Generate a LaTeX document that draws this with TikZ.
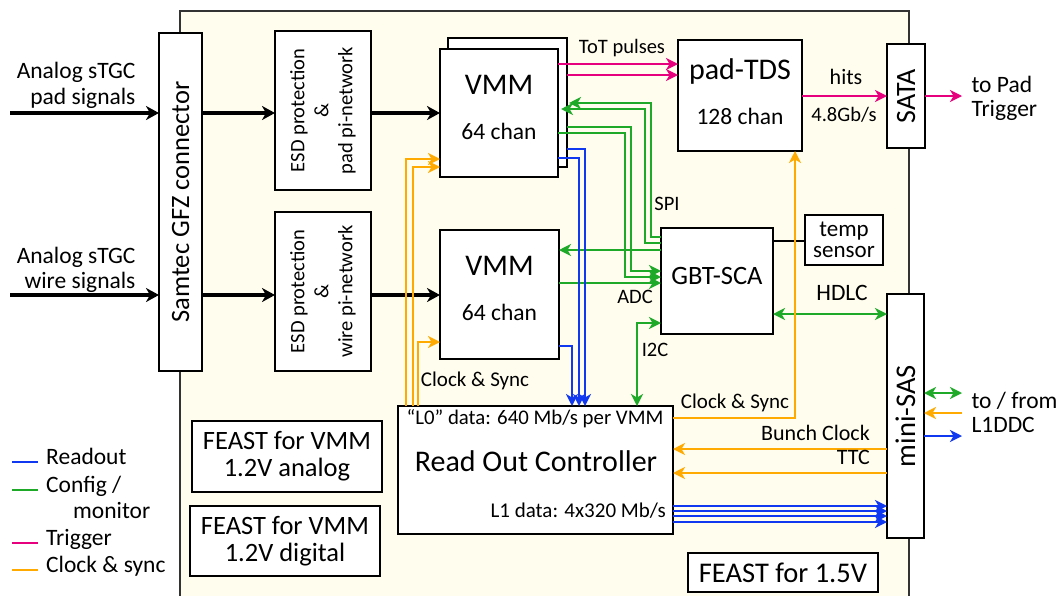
\documentclass[tikz,border=0pt]{standalone}
\usepackage{fontspec}
\setmainfont{Carlito}
\usetikzlibrary{arrows.meta}
\definecolor{cblue}{RGB}{16,56,240}
\definecolor{cgreen}{RGB}{30,170,40}
\definecolor{cmag}{RGB}{230,0,126}
\definecolor{corange}{RGB}{255,170,0}
\definecolor{beige}{RGB}{255,253,238}
\newcommand\fsz[2]{\fontsize{#1}{#2}\selectfont}
\begin{document}
\begin{tikzpicture}[x=1pt,y=-1pt,
  box/.style={draw=black,line width=2.5pt,fill=white,inner sep=0pt,outer sep=0pt},
  blk/.style={line width=4pt,-{Stealth[length=13pt,width=14pt,inset=4pt]}},
  carr/.style={line width=2pt,-{Stealth[length=12pt,width=12pt,inset=3.5pt]}},
  cdbl/.style={line width=2pt,{Stealth[length=12pt,width=12pt,inset=3.5pt]}-{Stealth[length=12pt,width=12pt,inset=3.5pt]}},
  cline/.style={line width=2pt},
  lbl/.style={inner sep=0pt,text height=0.7em,text depth=0.2em}
]
\fill[white] (0,0) rectangle (1060,595);
\useasboundingbox (0,0) rectangle (1060,595);
% board
\draw[fill=beige,draw=black!80,line width=1.5pt] (180,11) rectangle (909,610);

% boxes
\node[box,minimum width=43pt,minimum height=338pt] (samtec) at (180.5,202) {};
\node[rotate=90,font=\fsz{26.5}{30}] at (samtec) {Samtec GFZ connector};
\node[box,minimum width=96pt,minimum height=159pt] (esdpad) at (323,110.5) {};
\node[rotate=90,align=center,font=\fsz{20.5}{24}] at (esdpad) {ESD protection\\\&\\pad pi-network};
\node[box,minimum width=96pt,minimum height=159pt] (esdwire) at (323,291.5) {};
\node[rotate=90,align=center,font=\fsz{20.5}{24}] at (esdwire) {ESD protection\\\&\\wire pi-network};

\node[box,minimum width=119pt,minimum height=129pt] (vmm1back) at (507.5,102.5) {};
\node[box,minimum width=118pt,minimum height=128pt] (vmm1) at (499,113) {};
\node[lbl,font=\fsz{30}{30}] (vmm1t) at (499,92) {VMM};
\node[lbl,font=\fsz{23.5}{24}] (vmm1c) at (499,137) {64 chan};
\node[box,minimum width=119pt,minimum height=129pt] (vmm2) at (499.5,294.5) {};
\node[lbl,font=\fsz{30}{30}] (vmm2t) at (499.5,273) {VMM};
\node[lbl,font=\fsz{23.5}{24}] (vmm2c) at (499.5,318) {64 chan};

\node[box,minimum width=124pt,minimum height=111pt] (tds) at (740,95.5) {};
\node[lbl,font=\fsz{30}{30}] (tdst) at (740,77) {pad-TDS};
\node[lbl,font=\fsz{23.5}{24}] (tdsc) at (740,122) {128 chan};

\node[box,minimum width=38pt,minimum height=104pt] (sata) at (906,96) {};
\node[rotate=90,font=\fsz{28}{30}] at (sata) {SATA};

\node[box,minimum width=112pt,minimum height=106pt] (gbt) at (717,281) {};
\node[lbl,font=\fsz{26.5}{28}] (gbtt) at (717,282) {GBT-SCA};
\node[box,minimum width=78pt,minimum height=50pt,align=center,font=\fsz{23}{21}] (temp) at (844,240) {temp\\sensor};

\node[box,minimum width=37pt,minimum height=244pt] (minisas) at (905.5,416) {};
\node[rotate=90,font=\fsz{28.5}{30}] at (minisas) {mini-SAS};

\node[box,minimum width=275pt,minimum height=128pt] (roc) at (535.5,470) {};
\node[lbl,font=\fsz{20.8}{22}] (rocl0) at (535,422) {``L0'' data: 640 Mb/s per VMM};
\node[lbl,font=\fsz{30}{30}] (roct) at (536,469) {Read Out Controller};
\node[lbl,font=\fsz{21}{22},anchor=east] (rocl1) at (666,515) {L1 data: 4x320 Mb/s};

\node[box,minimum width=190pt,minimum height=71pt,align=center,font=\fsz{26.5}{27}] (feast1) at (287,456.5) {FEAST for VMM\\1.2V analog};
\node[box,minimum width=190pt,minimum height=70pt,align=center,font=\fsz{26.5}{27}] (feast2) at (285,541) {FEAST for VMM\\1.2V digital};
\node[box,minimum width=190pt,minimum height=39pt,font=\fsz{28.5}{30}] (feast15) at (783,572.5) {FEAST for 1.5V};

% inputs
\node[align=right,anchor=east,font=\fsz{23.5}{26}] (inpadl) at (139,85) {Analog sTGC\\pad signals};
\node[align=right,anchor=east,font=\fsz{23.5}{25}] (inwirel) at (139,270) {Analog sTGC\\wire signals};
\coordinate (inpad) at (10,113);
\coordinate (inwire) at (10,295);
\draw[blk] (inpad) -- (samtec.west |- inpad);
\draw[blk] (inwire) -- (samtec.west |- inwire);
\draw[blk] (samtec.east |- inpad) -- (esdpad.west |- inpad);
\draw[blk] (samtec.east |- inwire) -- (esdwire.west |- inwire);
\draw[blk] (esdpad.east |- inpad) -- (vmm1.west |- inpad);
\draw[blk] (esdwire.east |- inwire) -- (vmm2.west |- inwire);

% trigger
\draw[carr,cmag] (vmm1.east |- 0,64) -- (tds.west |- 0,64);
\draw[carr,cmag] (vmm1back.east |- 0,75) -- (tds.west |- 0,75);
\node[lbl,font=\fsz{20.5}{22}] (totl) at (622,51) {ToT pulses};
\draw[carr,cmag] (tds.east |- 0,96) -- (sata.west |- 0,96);
\node[lbl,font=\fsz{22}{22}] (hitsl) at (846,82) {hits};
\node[lbl,font=\fsz{20.5}{22}] (ratel) at (844,119) {4.8Gb/s};
\coordinate (padtrig) at (962,96);
\draw[carr,cmag] (sata.east |- padtrig) -- (padtrig);
\node[align=left,anchor=west,font=\fsz{23.5}{24}] (padtrigl) at (968,98) {to Pad\\Trigger};

% config / monitor
\draw[carr,cgreen] (gbt.west |- 0,237) -- (651,237) -- (651,103) -- (569,103);
\draw[carr,cgreen] (gbt.west |- 0,243) -- (645,243) -- (645,109) -- (561,109);
\draw[carr,cgreen] (vmm1back.east |- 0,127) -- (631,127) -- (631,271) -- (gbt.west |- 0,271);
\draw[carr,cgreen] (vmm1.east |- 0,133) -- (625,133) -- (625,277) -- (gbt.west |- 0,277);
\draw[carr,cgreen] (gbt.west |- 0,250) -- (vmm2.east |- 0,250);
\draw[carr,cgreen] (vmm2.east |- 0,283) -- (gbt.west |- 0,283);
\draw[cdbl,cgreen] (roc.north -| 637,0) -- (637,323) -- (gbt.west |- 0,323);
\draw[cdbl,cgreen] (gbt.east |- 0,314) -- (minisas.west |- 0,314);
\node[lbl,font=\fsz{20.5}{22}] (spil) at (667,208) {SPI};
\node[lbl,font=\fsz{20.5}{22}] (adcl) at (635,301) {ADC};
\node[lbl,font=\fsz{20.5}{22}] (i2cl) at (655,354) {I2C};
\node[lbl,font=\fsz{23.5}{24}] (hdlcl) at (842,298) {HDLC};
\draw[line width=2pt] (gbt.east |- 0,241) -- (temp.west |- 0,241);

% clock
\draw[carr,corange] (roc.north -| 406,0) -- (406,159) -- (vmm1.west |- 0,159);
\draw[carr,corange] (roc.north -| 413,0) -- (413,167) -- (vmm1.west |- 0,167);
\draw[carr,corange] (roc.north -| 418,0) -- (418,342) -- (vmm2.west |- 0,342);
\node[lbl,font=\fsz{21}{22}] (cs1) at (475,384) {Clock \& Sync};
\draw[carr,corange] (roc.east |- 0,418) -- (795,418) -- (tds.south -| 795,0);
\node[lbl,font=\fsz{21}{22}] (cs2) at (735,406) {Clock \& Sync};
\draw[carr,corange] (minisas.west |- 0,449) -- (roc.east |- 0,449);
\draw[carr,corange] (minisas.west |- 0,473) -- (roc.east |- 0,473);
\node[lbl,anchor=east,font=\fsz{22}{22}] (bcl) at (870,438) {Bunch Clock};
\node[lbl,anchor=east,font=\fsz{22}{22}] (ttcl) at (870,462) {TTC};

% readout
\draw[carr,cblue] (vmm1back.east |- 0,149) -- (585,149) -- (roc.north -| 585,0);
\draw[carr,cblue] (vmm1.east |- 0,158) -- (579,158) -- (roc.north -| 579,0);
\draw[carr,cblue] (vmm2.east |- 0,346) -- (572,346) -- (roc.north -| 572,0);
\foreach \yy in {506,511,516,522}
  \draw[carr,cblue] (roc.east |- 0,\yy) -- (minisas.west |- 0,\yy);

% external mini-SAS
\coordinate (extg) at (962,393);
\coordinate (exto) at (962,413);
\coordinate (extb) at (962,436);
\draw[cdbl,cgreen] (minisas.east |- extg) -- (extg);
\draw[carr,corange] (exto) -- (minisas.east |- exto);
\draw[carr,cblue] (minisas.east |- extb) -- (extb);
\node[align=left,anchor=west,font=\fsz{23.5}{24}] (l1ddcl) at (968,412) {to / from\\L1DDC};

% legend
\draw[cline,cblue] (12,462) -- (38,462);
\draw[cline,cgreen] (12,490) -- (38,490);
\draw[cline,cmag] (12,543) -- (38,543);
\draw[cline,corange] (12,570) -- (38,570);
\node[lbl,anchor=west,font=\fsz{23.5}{24}] (lg1) at (46,462) {Readout};
\node[lbl,anchor=west,font=\fsz{23.5}{24}] (lg2) at (46,490) {Config /};
\node[lbl,anchor=west,font=\fsz{23.5}{24}] (lg2b) at (73,516) {monitor};
\node[lbl,anchor=west,font=\fsz{23.5}{24}] (lg3) at (46,543) {Trigger};
\node[lbl,anchor=west,font=\fsz{23.5}{24}] (lg4) at (46,570) {Clock \& sync};
\end{tikzpicture}
\end{document}
